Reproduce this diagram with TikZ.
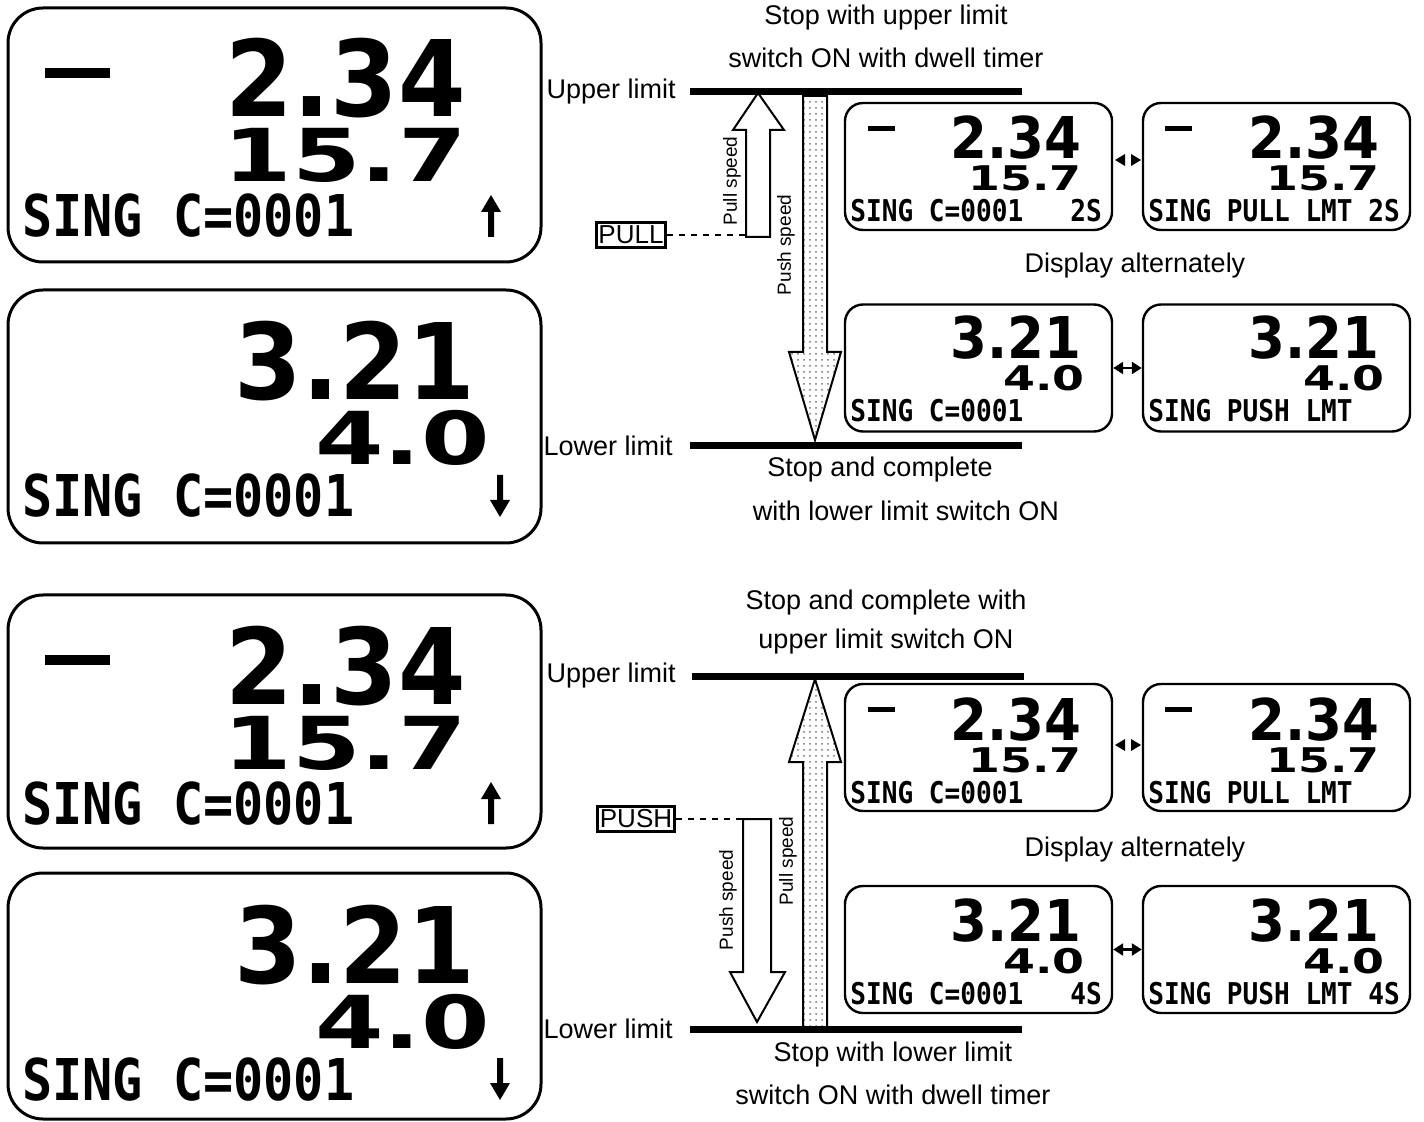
\documentclass[tikz,border=0pt]{standalone}
\usepackage{fontspec}
\setmainfont{Liberation Sans}
\newfontfamily\lcdnarrow[FakeStretch=0.92]{DejaVu Sans}
\newfontfamily\lcdwide[FakeStretch=1.35]{DejaVu Sans}
\newfontfamily\lcdmono[FakeStretch=0.87]{DejaVu Sans Mono}
\usetikzlibrary{arrows.meta,patterns}

\tikzset{
  txt/.style={font=\fontsize{13.5}{15}\selectfont, inner sep=0pt},
  speedtxt/.style={font=\fontsize{9.5}{11}\selectfont, inner sep=0pt, rotate=90},
  bigframe/.style={line width=1.5pt, rounded corners=17.5pt},
  smallframe/.style={draw, line width=1.2pt, rounded corners=9pt, minimum width=133.5pt, minimum height=63.5pt, inner sep=0pt},
  bignum/.style={font=\lcdnarrow\bfseries\fontsize{52.8}{60}\selectfont, inner sep=0pt, text height=38.5pt, text depth=0pt, anchor=base east},
  bigsub/.style={font=\lcdwide\bfseries\fontsize{36.5}{40}\selectfont, inner sep=0pt, text height=26.5pt, text depth=0pt, anchor=base east},
  bigstat/.style={font=\lcdmono\bfseries\fontsize{28.8}{32}\selectfont, inner sep=0pt, text height=21pt, text depth=0pt, anchor=base west},
  smallnum/.style={font=\lcdnarrow\bfseries\fontsize{28.8}{32}\selectfont, inner sep=0pt, text height=21pt, text depth=0pt, anchor=base east},
  smallsub/.style={font=\lcdwide\bfseries\fontsize{17}{20}\selectfont, inner sep=0pt, text height=12.4pt, text depth=0pt, anchor=base east},
  smallstat/.style={font=\lcdmono\bfseries\fontsize{15}{17}\selectfont, inner sep=0pt, text height=11pt, text depth=0pt, anchor=base west},
  limitline/.style={line width=3.5pt},
  hollow/.style={draw, line width=1pt, fill=white},
  dotfill/.style={draw, line width=1pt, pattern=dots, pattern color=black!55},
  keybox/.style={draw, line width=1.5pt, inner xsep=1pt, inner ysep=1.5pt, font=\fontsize{13}{15}\selectfont},
  leader/.style={dashed, line width=0.6pt},
  swap/.style={line width=1.2pt, {Triangle[length=5pt,width=6pt]}-{Triangle[length=5pt,width=6pt]}}
}

\begin{document}
\begin{tikzpicture}[x=0.5pt, y=-0.5pt]
  \useasboundingbox (0,0) rectangle (1424,1122);

  % big displays, upper half
  \draw[bigframe] (8,8) rectangle (541,262);
  \fill (45,68) rectangle (110,78);
  \node[bignum] (numa) at (466,117) {2.34};
  \node[bigsub] (suba) at (467,182) {15.7};
  \node[bigstat] (stata) at (22,237) {SING C=0001};
  \fill (481,212) -- (491,195) -- (501,212) -- (494,212) -- (494,237) -- (488,237) -- (488,212) -- cycle;

  \draw[bigframe] (8,290) rectangle (541,543);
  \node[bignum] (numb) at (475,400) {3.21};
  \node[bigsub] (subb) at (490,465) {4.0};
  \node[bigstat] (statb) at (22,517) {SING C=0001};
  \fill (490,500) -- (500,517) -- (510,500) -- (503,500) -- (503,475) -- (497,475) -- (497,500) -- cycle;

  % big displays, lower half
  \draw[bigframe] (8,595) rectangle (541,848);
  \fill (45,655) rectangle (110,665);
  \node[bignum] (numc) at (466,704) {2.34};
  \node[bigsub] (subc) at (467,769) {15.7};
  \node[bigstat] (statc) at (22,824) {SING C=0001};
  \fill (481,799) -- (491,782) -- (501,799) -- (494,799) -- (494,824) -- (488,824) -- (488,799) -- cycle;

  \draw[bigframe] (8,873) rectangle (541,1119);
  \node[bignum] (numd) at (475,983) {3.21};
  \node[bigsub] (subd) at (490,1048) {4.0};
  \node[bigstat] (statd) at (22,1100) {SING C=0001};
  \fill (490,1083) -- (500,1100) -- (510,1083) -- (503,1083) -- (503,1058) -- (497,1058) -- (497,1083) -- cycle;

  % pull run
  \node[txt] (stopa) at (886,18) {Stop with upper limit};
  \node[txt] (stopb) at (886,58) {switch ON with dwell timer};
  \node[txt, anchor=east] (upa) at (676,92) {Upper limit};
  \node[txt, anchor=east] (lowa) at (673,446) {Lower limit};
  \coordinate (upaend) at (1022,92);
  \coordinate (lowaend) at (1022,446);
  \draw[limitline] ([xshift=7pt]upa.east) -- (upaend);
  \draw[limitline] ([xshift=8.5pt]lowa.east) -- (lowaend);
  \node[txt] (stopc) at (880,470) {Stop and complete};
  \node[txt] (stopd) at (906,511) {with lower limit switch ON};

  \draw[hollow] (746,237) -- (746,130) -- (733,130) -- (758,93) -- (784,130) -- (770,130) -- (770,237) -- cycle;
  \draw[dotfill] (803,96) -- (803,352) -- (789,352) -- (815,440) -- (841,352) -- (827,352) -- (827,96) -- cycle;
  \node[speedtxt] (pullspa) at (732,181) {Pull speed};
  \node[speedtxt] (pushspa) at (786,245) {Push speed};
  \node[keybox] (pull) at (631,235) {PULL};
  \coordinate (pullfoot) at (746,235);
  \draw[leader] (pull) -- (pullfoot);

  \node[smallframe] (dispa) at (978.5,166.5) {};
  \node[smallframe] (dispb) at (1276.5,166.5) {};
  \node[smallframe] (dispc) at (978.5,368) {};
  \node[smallframe] (dispd) at (1276.5,368) {};
  \fill (868,126) rectangle (895,131);
  \node[smallnum] (na) at (1082,159) {2.34};
  \node[smallsub] (sa) at (1082,191) {15.7};
  \node[smallstat] (ta) at (850,222) {SING C=0001~~~2S};
  \fill (1165,126) rectangle (1192,131);
  \node[smallnum] (nb) at (1380,159) {2.34};
  \node[smallsub] (sb) at (1380,191) {15.7};
  \node[smallstat] (tb) at (1148,222) {SING PULL LMT~2S};
  \node[smallnum] (nc) at (1082,359) {3.21};
  \node[smallsub] (sc) at (1085,391) {4.0};
  \node[smallstat] (tc) at (850,422) {SING C=0001};
  \node[smallnum] (nd) at (1380,359) {3.21};
  \node[smallsub] (sd) at (1385,391) {4.0};
  \node[smallstat] (td) at (1148,422) {SING PUSH LMT};
  \fill (1115,160) -- (1125,154) -- (1125,166) -- cycle;
  \fill (1141,160) -- (1131,154) -- (1131,166) -- cycle;
  \draw[swap] (dispc) -- (dispd);
  \node[txt] (alta) at (1135,266) {Display alternately};

  % push run
  \node[txt] (stope) at (886,603) {Stop and complete with};
  \node[txt] (stopf) at (886,642) {upper limit switch ON};
  \node[txt, anchor=east] (upb) at (676,676) {Upper limit};
  \node[txt, anchor=east] (lowb) at (673,1029) {Lower limit};
  \coordinate (upbend) at (1024,676);
  \coordinate (lowbend) at (1022,1029);
  \draw[limitline] ([xshift=8pt]upb.east) -- (upbend);
  \draw[limitline] ([xshift=8.5pt]lowb.east) -- (lowbend);
  \node[txt] (stopg) at (893,1055) {Stop with lower limit};
  \node[txt] (stoph) at (893,1095) {switch ON with dwell timer};

  \draw[dotfill] (803,1027) -- (803,762) -- (789,762) -- (815,679) -- (841,762) -- (827,762) -- (827,1027) -- cycle;
  \draw[hollow] (743,819) -- (743,972) -- (730,972) -- (757,1022) -- (785,972) -- (771,972) -- (771,819) -- cycle;
  \node[speedtxt] (pullspb) at (788,861) {Pull speed};
  \node[speedtxt] (pushspb) at (728,900) {Push speed};
  \node[keybox] (push) at (636,819) {PUSH};
  \coordinate (pushtop) at (743,819);
  \draw[leader] (push) -- (pushtop);

  \node[smallframe] (dispe) at (978.5,747.5) {};
  \node[smallframe] (dispf) at (1276.5,747.5) {};
  \node[smallframe] (dispg) at (978.5,949.5) {};
  \node[smallframe] (disph) at (1276.5,949.5) {};
  \fill (868,707) rectangle (895,712);
  \node[smallnum] (ne) at (1082,740) {2.34};
  \node[smallsub] (se) at (1082,772) {15.7};
  \node[smallstat] (te) at (850,803) {SING C=0001};
  \fill (1165,707) rectangle (1192,712);
  \node[smallnum] (nf) at (1380,740) {2.34};
  \node[smallsub] (sf) at (1380,772) {15.7};
  \node[smallstat] (tf) at (1148,803) {SING PULL LMT};
  \node[smallnum] (ng) at (1082,941) {3.21};
  \node[smallsub] (sg) at (1085,973) {4.0};
  \node[smallstat] (tg) at (850,1004) {SING C=0001~~~4S};
  \node[smallnum] (nh) at (1380,941) {3.21};
  \node[smallsub] (sh) at (1385,973) {4.0};
  \node[smallstat] (th) at (1148,1004) {SING PUSH LMT~4S};
  \fill (1115,745) -- (1125,739) -- (1125,751) -- cycle;
  \fill (1141,745) -- (1131,739) -- (1131,751) -- cycle;
  \draw[swap] (dispg) -- (disph);
  \node[txt] (altb) at (1135,850) {Display alternately};
\end{tikzpicture}
\end{document}
